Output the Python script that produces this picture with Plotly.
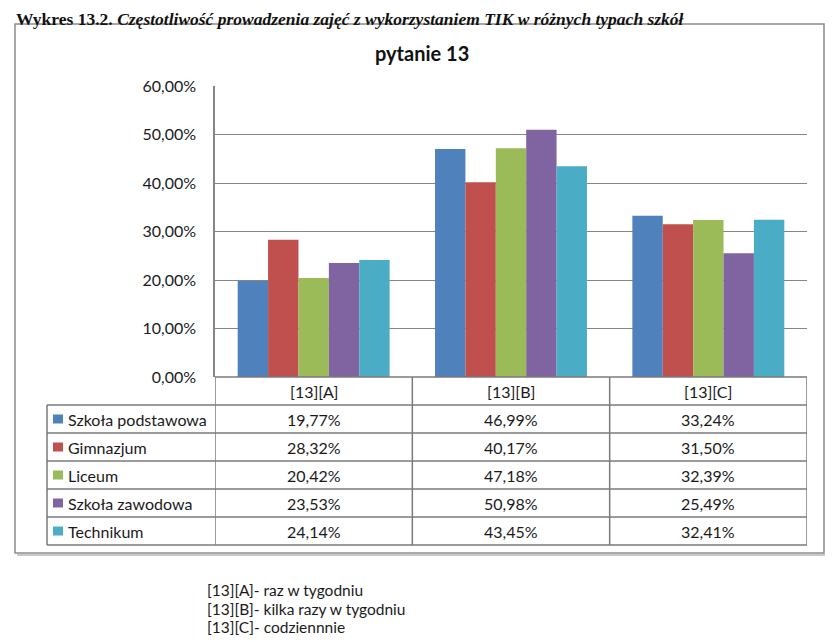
import plotly.graph_objects as go

# ---------------- data ----------------
categories = ["[13][A]", "[13][B]", "[13][C]"]
series_names = ["Szkoła podstawowa", "Gimnazjum", "Liceum", "Szkoła zawodowa", "Technikum"]
szkola_podstawowa = [19.77, 46.99, 33.24]
gimnazjum = [28.32, 40.17, 31.50]
liceum = [20.42, 47.18, 32.39]
szkola_zawodowa = [23.53, 50.98, 25.49]
technikum = [24.14, 43.45, 32.41]
series_values = [szkola_podstawowa, gimnazjum, liceum, szkola_zawodowa, technikum]
y_ticks = [0, 10, 20, 30, 40, 50, 60]
notes = ["[13][A]- raz w tygodniu", "[13][B]- kilka razy w tygodniu", "[13][C]- codziennnie"]
heading_bold = "Wykres 13.2."
heading_italic = "Częstotliwość prowadzenia zajęć z wykorzystaniem TIK w różnych typach szkół"
chart_title = "pytanie 13"

colors = ["#4F81BD", "#C0504D", "#9BBB59", "#8064A2", "#4BACC6"]
FONT = "Lato, 'Open Sans', sans-serif"

# the page body adds an 8px margin; work in page pixels and convert
OFF = 8
W, H = 833 - OFF, 642 - OFF
PL, PR, PT, PB = 215, 807, 86, 377  # plot area in page pixels


def xp(px):
    return (px - PL) / (PR - PL)


def yp(py):
    return (PB - py) / (PB - PT)


def pct(v):
    return f"{v:.2f}%".replace(".", ",")


fig = go.Figure()
for name, vals, col in zip(series_names, series_values, colors):
    fig.add_trace(go.Bar(
        name=name, x=categories, y=[v / 100 for v in vals],
        marker=dict(color=col, line=dict(width=0)),
        hovertemplate="%{x}: %{y:.2%}<extra>" + name + "</extra>",
    ))

shapes = []
annotations = []
LINE = "#7a7a7a"
TXT = "#1a1a1a"

# outer frame with a light shadow
shapes.append(dict(type="line", xref="paper", yref="paper",
                   x0=xp(827), x1=xp(827), y0=yp(555), y1=yp(26),
                   line=dict(color="#c8c8c8", width=2), layer="below"))
shapes.append(dict(type="line", xref="paper", yref="paper",
                   x0=xp(17), x1=xp(827), y0=yp(555), y1=yp(555),
                   line=dict(color="#c8c8c8", width=2), layer="below"))
shapes.append(dict(type="rect", xref="paper", yref="paper",
                   x0=xp(15), x1=xp(824), y0=yp(553), y1=yp(24),
                   line=dict(color="#8c8c8c", width=1.5), fillcolor="rgba(0,0,0,0)", layer="below"))

# data table
row_h = 28
top_rows = 405
shapes.append(dict(type="line", xref="paper", yref="paper",
                   x0=xp(PL), x1=xp(PR), y0=yp(PB), y1=yp(PB), line=dict(color=LINE, width=1.5)))
for i in range(len(series_names) + 1):
    yy = top_rows + i * row_h
    shapes.append(dict(type="line", xref="paper", yref="paper",
                       x0=xp(47), x1=xp(PR), y0=yp(yy), y1=yp(yy), line=dict(color=LINE, width=1.5)))
bottom = top_rows + len(series_names) * row_h
for b in [-0.5, 0.5, 1.5, 2.5]:
    shapes.append(dict(type="line", xref="x", yref="paper",
                       x0=b, x1=b, y0=yp(PB), y1=yp(bottom), line=dict(color=LINE, width=1.5)))
shapes.append(dict(type="line", xref="paper", yref="paper",
                   x0=xp(47), x1=xp(47), y0=yp(top_rows), y1=yp(bottom), line=dict(color=LINE, width=1.5)))

for c in categories:
    annotations.append(dict(x=c, xref="x", y=yp((PB + top_rows) / 2), yref="paper",
                            text=c, showarrow=False, font=dict(family=FONT, size=16, color=TXT),
                            xanchor="center", yanchor="middle"))
for i, (name, vals, col) in enumerate(zip(series_names, series_values, colors)):
    yc = top_rows + i * row_h + row_h / 2
    shapes.append(dict(type="rect", xref="paper", yref="paper",
                       x0=xp(53), x1=xp(63), y0=yp(yc + 4.5), y1=yp(yc - 4.5),
                       fillcolor=col, line=dict(width=0)))
    annotations.append(dict(x=xp(66), xref="paper", y=yp(yc), yref="paper", text=name,
                            showarrow=False, xanchor="left", yanchor="middle",
                            font=dict(family=FONT, size=16, color=TXT)))
    for c, v in zip(categories, vals):
        annotations.append(dict(x=c, xref="x", y=yp(yc), yref="paper", text=pct(v),
                                showarrow=False, xanchor="center", yanchor="middle",
                                font=dict(family=FONT, size=16, color=TXT)))

# headings
annotations.append(dict(x=xp(15), xref="paper", y=yp(OFF), yref="paper",
                        text=f"<b>{heading_bold}</b> <b><i>{heading_italic}</i></b>",
                        showarrow=False, xanchor="left", yanchor="top", borderpad=0,
                        font=dict(family="'Liberation Serif', 'DejaVu Serif', serif", size=17.5, color="#111")))
annotations.append(dict(x=xp(422), xref="paper", y=yp(53), yref="paper",
                        text=f"<b>{chart_title}</b>", showarrow=False, xanchor="center", yanchor="middle",
                        font=dict(family=FONT, size=20, color="#111")))
for i, n in enumerate(notes):
    annotations.append(dict(x=xp(205), xref="paper", y=yp(590 + i * 18.5), yref="paper",
                            text=n, showarrow=False, xanchor="left", yanchor="middle",
                            font=dict(family=FONT, size=15.5, color=TXT)))

fig.update_layout(
    width=W, height=H,
    margin=dict(l=PL - OFF, r=(W + OFF) - PR, t=PT - OFF, b=(H + OFF) - PB, pad=0),
    paper_bgcolor="white", plot_bgcolor="white",
    barmode="group", bargap=0.23, bargroupgap=0,
    showlegend=False,
    separators=",.",
    font=dict(family=FONT, size=16, color=TXT),
    xaxis=dict(showticklabels=False, showgrid=False, showline=False, zeroline=False,
               range=[-0.5, 2.5], fixedrange=True),
    yaxis=dict(range=[0, 0.6], tickvals=[t / 100 for t in y_ticks], tickformat=".2%",
               showgrid=True, gridcolor="#868686", gridwidth=1,
               showline=True, linecolor="#868686", linewidth=1.5,
               zeroline=False, ticks="", ticklabelstandoff=14,
               tickfont=dict(family=FONT, size=16, color=TXT)),
    shapes=shapes, annotations=annotations,
)

fig.write_html("out.html")
